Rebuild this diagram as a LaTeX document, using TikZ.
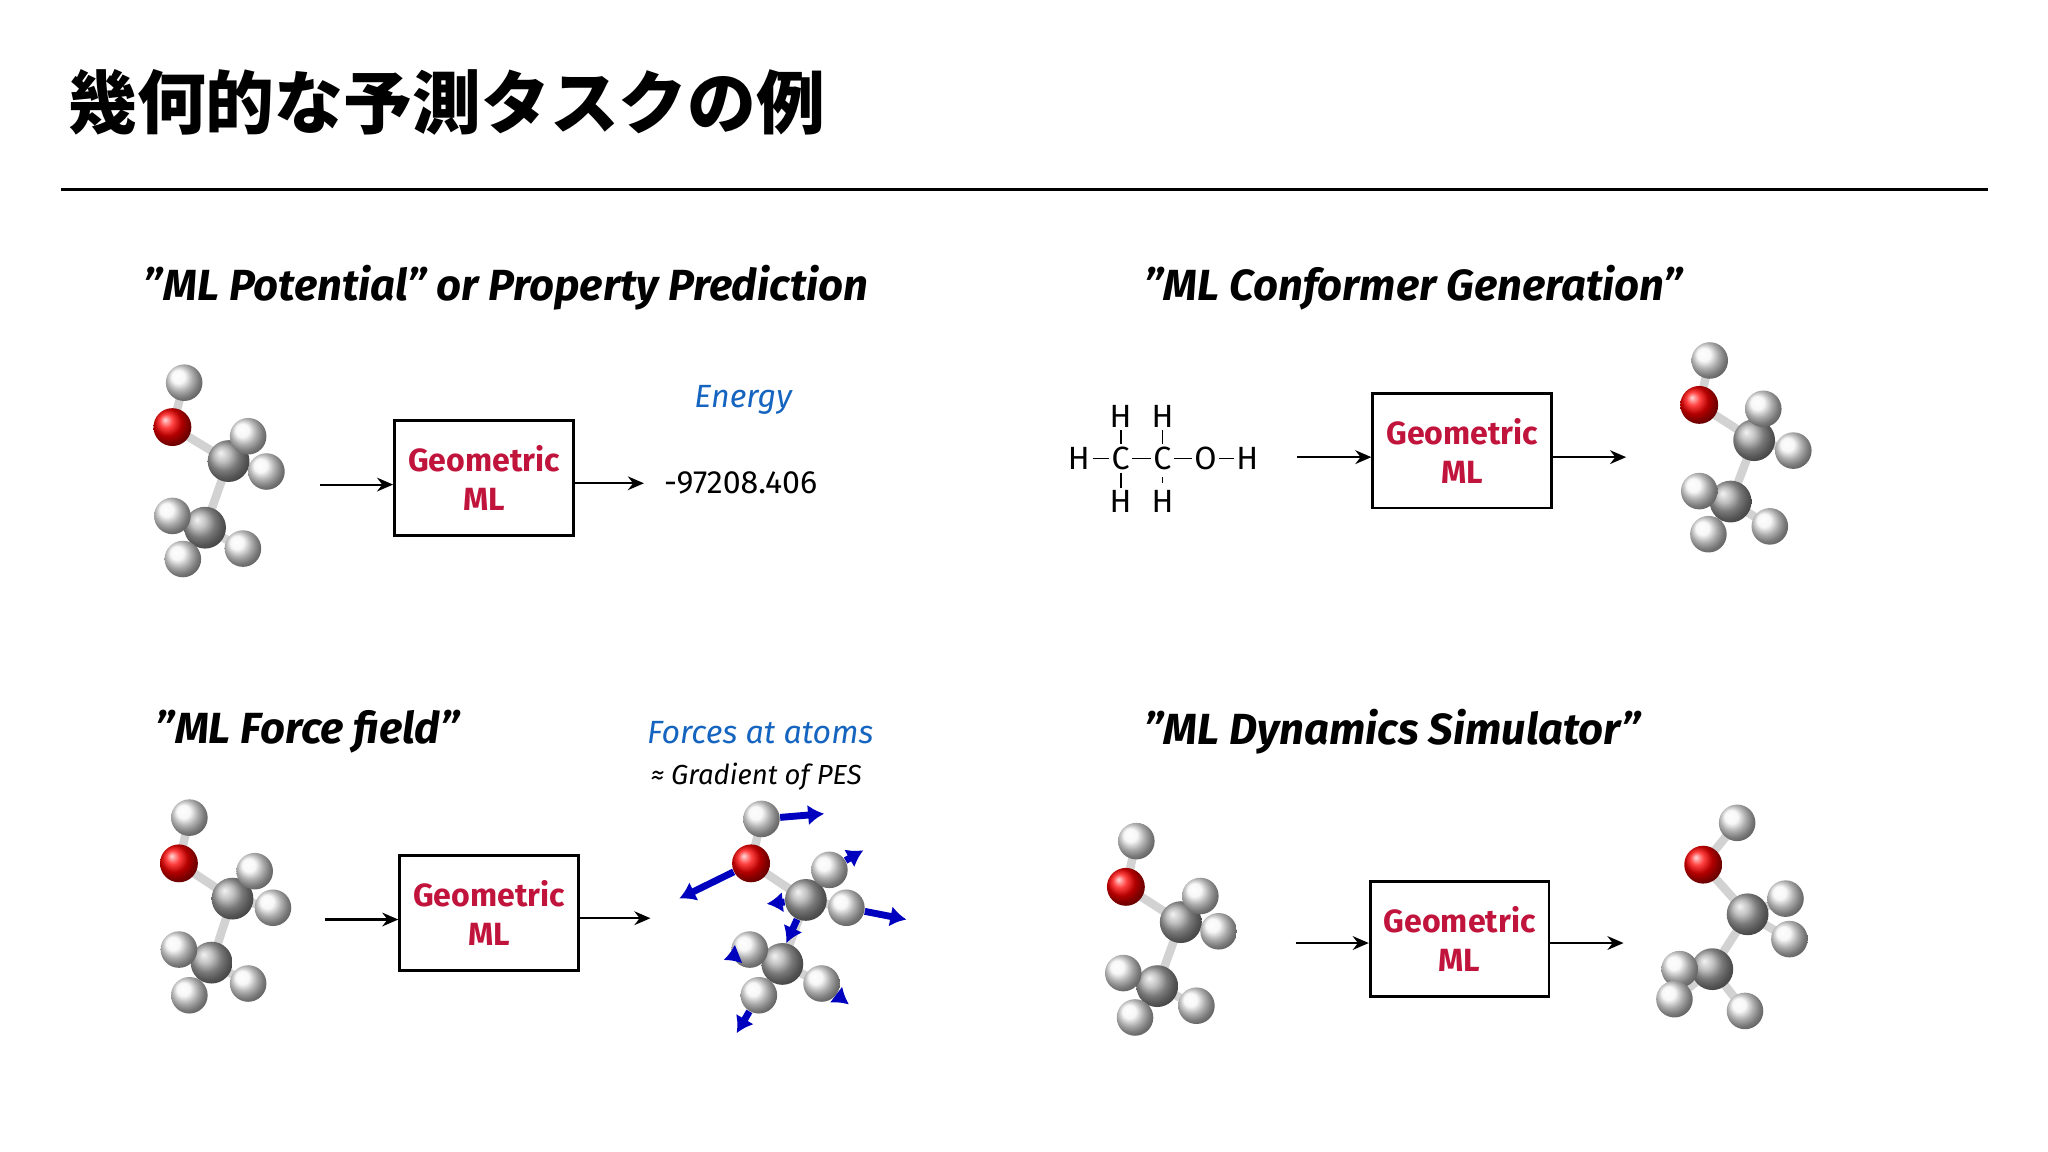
\documentclass[tikz,border=0pt]{standalone}
\usepackage{fontspec}
\setmainfont{Fira Sans}
\newfontfamily\cjk{Noto Sans CJK JP}
\usetikzlibrary{arrows.meta,backgrounds}
\definecolor{gml}{HTML}{C0143C}
\definecolor{eblue}{HTML}{1565C0}
\newcommand\qq{\char34\relax}
\tikzset{
 atH/.style={circle,inner sep=0pt,minimum size=0.56cm,ball color=white!92!gray},
 atO/.style={circle,inner sep=0pt,minimum size=0.58cm,ball color=red},
 atC/.style={circle,inner sep=0pt,minimum size=0.64cm,ball color=gray!65},
 bond/.style={line width=0.13cm,gray!35},
 arr/.style={-{Stealth[length=7pt,width=6pt]},line width=0.9pt},
 gbox/.style={draw,line width=1.2pt,minimum width=2.74cm,minimum height=1.76cm,inner sep=1pt,align=center,text=gml,font=\bfseries\fontsize{14}{17}\selectfont},
 hdr/.style={anchor=west,font=\bfseries\itshape\fontsize{19}{22}\selectfont},
 force/.style={-{Latex[length=7pt,width=9pt]},line width=3pt,blue!75!black},
 sf/.style={font=\fontsize{14}{16}\selectfont,inner sep=1pt}
}
\newcommand\atm[4]{\node[#1] (#2) at (#3,#4) {};}
\begin{document}
\begin{tikzpicture}[x=0.02cm,y=-0.02cm]
\useasboundingbox (0,0) rectangle (1568,882);
\node[anchor=west,font=\cjk\bfseries\fontsize{30}{34}\selectfont] (title) at (46,78) {幾何的な予測タスクの例};
\coordinate (l1) at (47,145); \coordinate (l2) at (1522,145);
\draw[line width=1.5pt] (l1) -- (l2);
% headers
\node[hdr] (h1) at (104,220) {\qq ML Potential\qq\ or Property Prediction};
\node[hdr] (h2) at (870,220) {\qq ML Conformer Generation\qq};
\node[hdr] (h3) at (113,560) {\qq ML Force field\qq};
\node[hdr] (h4) at (870,560) {\qq ML Dynamics Simulator\qq};
% --- molecule A
\atm{atH}{aH1}{141}{293}\atm{atO}{aO}{132}{327}\atm{atC}{aC1}{175}{353}
\atm{atH}{aH2}{190}{334}\atm{atH}{aH3}{204}{361}\atm{atC}{aC2}{157}{404}
\atm{atH}{aH4}{132}{395}\atm{atH}{aH5}{140}{428}\atm{atH}{aH6}{186}{420}
\begin{pgfonlayer}{background}
\draw[bond] (aH1.center)--(aO.center)--(aC1.center)--(aC2.center) (aC1.center)--(aH2.center) (aC1.center)--(aH3.center) (aC2.center)--(aH4.center) (aC2.center)--(aH5.center) (aC2.center)--(aH6.center);
\end{pgfonlayer}
\node[gbox] (b1) at (370.5,366) {Geometric\\ML};
\coordinate (a1s) at (245,371); \draw[arr] (a1s) -- (b1.west|-a1s);
\coordinate (a1e) at (493,370); \draw[arr] (b1.east|-a1e) -- (a1e);
\node[font=\fontsize{14}{17}\selectfont] (val) at (567,370) {-97208.406};
\node[font=\itshape\fontsize{14}{17}\selectfont,text=eblue] (en) at (569,306) {Energy};
% --- structural formula
\node[sf] (fH1) at (826,351) {H}; \node[sf] (fC1) at (858,351) {C}; \node[sf] (fC2) at (890,351) {C};
\node[sf] (fO) at (923,351) {O}; \node[sf] (fH2) at (955,351) {H};
\node[sf] (fH3) at (858,319) {H}; \node[sf] (fH4) at (890,319) {H};
\node[sf] (fH5) at (858,384) {H}; \node[sf] (fH6) at (890,384) {H};
\draw[line width=0.8pt,shorten <=2pt,shorten >=2pt] (fH1)--(fC1) (fC1)--(fC2) (fC2)--(fO) (fO)--(fH2) (fH3)--(fC1) (fH4)--(fC2) (fC1)--(fH5) (fC2)--(fH6);
\node[gbox] (b2) at (1119.5,345) {Geometric\\ML};
\coordinate (a2s) at (993,350); \draw[arr] (a2s) -- (b2.west|-a2s);
\coordinate (a2e) at (1245,350); \draw[arr] (b2.east|-a2e) -- (a2e);
\atm{atH}{bH1}{1309}{276}\atm{atO}{bO}{1301}{310}\atm{atC}{bC1}{1343}{337}
\atm{atH}{bH2}{1350}{313}\atm{atH}{bH3}{1373}{345}\atm{atC}{bC2}{1325}{384}
\atm{atH}{bH4}{1301}{376}\atm{atH}{bH5}{1308}{409}\atm{atH}{bH6}{1355}{403}
\begin{pgfonlayer}{background}
\draw[bond] (bH1.center)--(bO.center)--(bC1.center)--(bC2.center) (bC1.center)--(bH2.center) (bC1.center)--(bH3.center) (bC2.center)--(bH4.center) (bC2.center)--(bH5.center) (bC2.center)--(bH6.center);
\end{pgfonlayer}
% --- force field
\atm{atH}{cH1}{145}{626}\atm{atO}{cO}{137}{661}\atm{atC}{cC1}{178}{688}
\atm{atH}{cH2}{195}{667}\atm{atH}{cH3}{209}{695}\atm{atC}{cC2}{162}{737}
\atm{atH}{cH4}{137}{727}\atm{atH}{cH5}{145}{762}\atm{atH}{cH6}{190}{753}
\begin{pgfonlayer}{background}
\draw[bond] (cH1.center)--(cO.center)--(cC1.center)--(cC2.center) (cC1.center)--(cH2.center) (cC1.center)--(cH3.center) (cC2.center)--(cH4.center) (cC2.center)--(cH5.center) (cC2.center)--(cH6.center);
\end{pgfonlayer}
\node[gbox] (b3) at (374.5,699) {Geometric\\ML};
\coordinate (a3s) at (249,704); \draw[arr] (a3s) -- (b3.west|-a3s);
\coordinate (a3e) at (498,703); \draw[arr] (b3.east|-a3e) -- (a3e);
\node[font=\itshape\fontsize{14}{17}\selectfont,text=eblue] (fa) at (582,561) {Forces at atoms};
\node[font=\itshape\fontsize{12}{15}\selectfont] (gp) at (579,595) {≈ Gradient of PES};
\atm{atH}{dH1}{583}{627}\atm{atO}{dO}{575}{661}\atm{atC}{dC1}{617}{689}
\atm{atH}{dH2}{635}{666}\atm{atH}{dH3}{648}{695}\atm{atC}{dC2}{599}{738}
\atm{atH}{dH4}{574}{727}\atm{atH}{dH5}{581}{762}\atm{atH}{dH6}{629}{753}
\begin{pgfonlayer}{background}
\draw[bond] (dH1.center)--(dO.center)--(dC1.center)--(dC2.center) (dC1.center)--(dH2.center) (dC1.center)--(dH3.center) (dC2.center)--(dH4.center) (dC2.center)--(dH5.center) (dC2.center)--(dH6.center);
\end{pgfonlayer}
\coordinate (f1) at (631,623); \coordinate (f2) at (520,688); \coordinate (f3) at (661,651);
\coordinate (f4) at (694,704); \coordinate (f5) at (587,692); \coordinate (f6) at (554,735);
\coordinate (f7) at (564,791); \coordinate (f8) at (650,769); \coordinate (f9) at (602,722);
\draw[force] (dH1) -- (f1); \draw[force] (dO) -- (f2); \draw[force] (dH2) -- (f3);
\draw[force] (dH3) -- (f4); \draw[force] (dC1) -- (f5); \draw[force] (dH4) -- (f6);
\draw[force] (dH5) -- (f7); \draw[force] (dH6) -- (f8); \draw[force] (dC1) -- (f9);
% --- dynamics
\atm{atH}{eH1}{870}{644}\atm{atO}{eO}{862}{679}\atm{atC}{eC1}{904}{706}
\atm{atH}{eH2}{919}{686}\atm{atH}{eH3}{933}{713}\atm{atC}{eC2}{886}{755}
\atm{atH}{eH4}{860}{745}\atm{atH}{eH5}{869}{779}\atm{atH}{eH6}{916}{770}
\begin{pgfonlayer}{background}
\draw[bond] (eH1.center)--(eO.center)--(eC1.center)--(eC2.center) (eC1.center)--(eH2.center) (eC1.center)--(eH3.center) (eC2.center)--(eH4.center) (eC2.center)--(eH5.center) (eC2.center)--(eH6.center);
\end{pgfonlayer}
\node[gbox] (b4) at (1117.5,719) {Geometric\\ML};
\coordinate (a4s) at (992,722); \draw[arr] (a4s) -- (b4.west|-a4s);
\coordinate (a4e) at (1243,722); \draw[arr] (b4.east|-a4e) -- (a4e);
\atm{atH}{gH1}{1330}{630}\atm{atO}{gO}{1304}{662}\atm{atC}{gC1}{1338}{700}
\atm{atH}{gH2}{1367}{688}\atm{atH}{gH3}{1370}{719}\atm{atC}{gC2}{1311}{742}
\atm{atH}{gH4}{1286}{742}\atm{atH}{gH5}{1282}{765}\atm{atH}{gH6}{1336}{774}
\begin{pgfonlayer}{background}
\draw[bond] (gH1.center)--(gO.center)--(gC1.center)--(gC2.center) (gC1.center)--(gH2.center) (gC1.center)--(gH3.center) (gC2.center)--(gH4.center) (gC2.center)--(gH5.center) (gC2.center)--(gH6.center);
\end{pgfonlayer}
\end{tikzpicture}
\end{document}
